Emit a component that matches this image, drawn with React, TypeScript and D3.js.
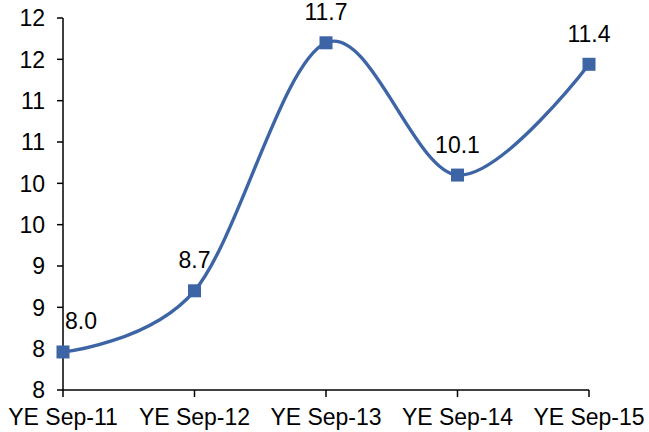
import React from "react";
import * as d3 from "d3";

const categories = ["YE Sep-11", "YE Sep-12", "YE Sep-13", "YE Sep-14", "YE Sep-15"];
const values = [7.96, 8.7, 11.7, 10.1, 11.44];
const yTicks = [7.5, 8, 8.5, 9, 9.5, 10, 10.5, 11, 11.5, 12];

const W = 649;
const H = 432;
const COLOR = "#3D65A5";
const FONT = "'Liberation Sans', Arial, sans-serif";
const FS = 23;

export default function App() {
  const x = d3.scalePoint<string>().domain(categories).range([63, 589]);
  const y = d3.scaleLinear().domain([7.5, 12]).range([390, 18]);
  const line = d3
    .line<number>()
    .x((_, i) => x(categories[i])!)
    .y((d) => y(d))
    .curve(d3.curveCardinal.tension(0));
  const fmtTick = d3.format(".0f");
  const fmtVal = d3.format(".1f");
  const ms = 13;

  return (
    <div style={{ position: "absolute", left: 0, top: 0 }}>
      <svg width={W} height={H} style={{ display: "block", background: "#fff" }} fontFamily={FONT}>
        {/* y axis */}
        <line x1={63} x2={63} y1={y(12)} y2={y(7.5)} stroke="#000" strokeWidth={1.5} />
        {yTicks.map((t) => (
          <g key={t}>
            <line x1={57} x2={63} y1={y(t)} y2={y(t)} stroke="#000" strokeWidth={1.5} />
            <text x={45} y={y(t)} dy="0.36em" textAnchor="end" fontSize={FS} fill="#000">
              {fmtTick(t)}
            </text>
          </g>
        ))}
        {/* x axis */}
        <line x1={63} x2={589} y1={390} y2={390} stroke="#000" strokeWidth={1.5} />
        {categories.map((c) => (
          <g key={c}>
            <line x1={x(c)!} x2={x(c)!} y1={390} y2={397} stroke="#000" strokeWidth={1.5} />
            <text x={x(c)!} y={425} textAnchor="middle" fontSize={FS} fill="#000">
              {c}
            </text>
          </g>
        ))}
        {/* series */}
        <path d={line(values) || ""} fill="none" stroke={COLOR} strokeWidth={3.4} />
        {values.map((v, i) => (
          <rect
            key={i}
            x={x(categories[i])! - ms / 2}
            y={y(v) - ms / 2}
            width={ms}
            height={ms}
            fill={COLOR}
          />
        ))}
        {values.map((v, i) => (
          <text
            key={"l" + i}
            x={i === 0 ? x(categories[i])! + 2 : x(categories[i])!}
            y={y(v) - 22.5}
            textAnchor={i === 0 ? "start" : "middle"}
            fontSize={FS}
            fill="#000"
          >
            {fmtVal(v)}
          </text>
        ))}
      </svg>
    </div>
  );
}
